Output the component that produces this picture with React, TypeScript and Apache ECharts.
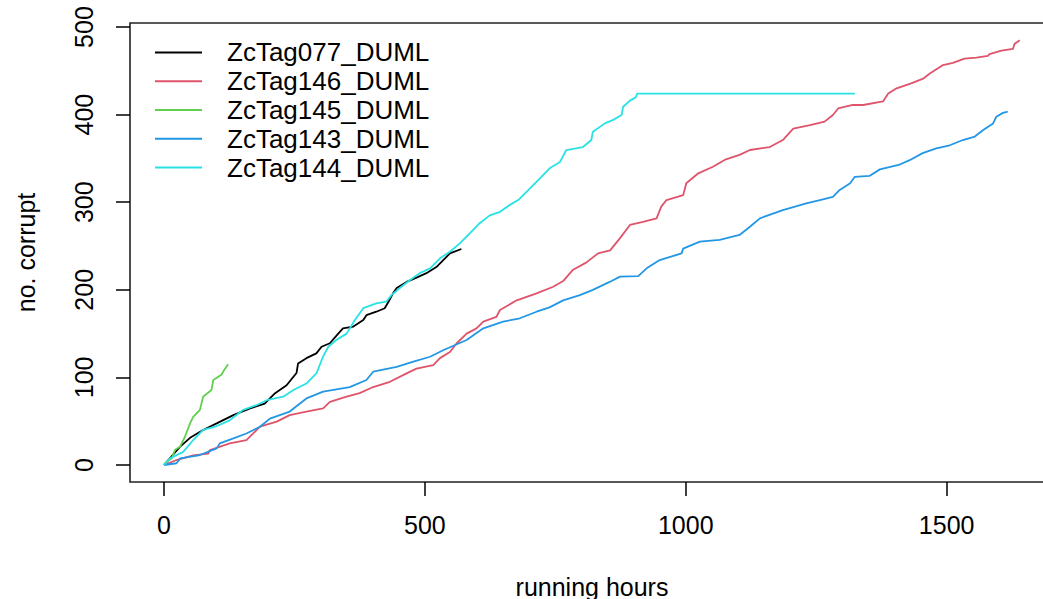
import React, { useEffect, useRef } from "react";
import * as echarts from "echarts";

const seriesNames = ["ZcTag077_DUML", "ZcTag146_DUML", "ZcTag145_DUML", "ZcTag143_DUML", "ZcTag144_DUML"];
const seriesColors = ["#000000", "#DF536B", "#61D04F", "#2297E6", "#28E2E5"];

const xTicks = [0, 500, 1000, 1500];
const yTicks = [0, 100, 200, 300, 400, 500];

// ZcTag077_DUML
const hours077 = [0, 31, 50, 75, 101, 133, 165, 193, 213, 235, 254, 257, 273, 292, 302, 318, 334, 343, 363, 382, 388, 407, 423, 430, 439, 446, 465, 484, 503, 522, 532, 548, 570];
const count077 = [0, 21, 31, 40, 47.5, 57, 64.7, 70, 82, 91, 105, 116, 122, 127.5, 135, 139, 150, 156, 158, 165.5, 171, 175, 179, 186, 196, 202, 209, 214, 219, 226, 232, 241.6, 246.6];

// ZcTag146_DUML
const hours146 = [0, 24, 56, 85, 88, 126, 158, 171, 184, 216, 241, 273, 305, 318, 350, 375, 401, 433, 465, 484, 516, 529, 548, 561, 580, 599, 612, 637, 644, 676, 714, 746, 765, 784, 809, 832, 855, 874, 893, 918, 944, 953, 963, 995, 1001, 1024, 1052, 1077, 1103, 1123, 1161, 1186, 1206, 1238, 1266, 1282, 1292, 1320, 1340, 1378, 1388, 1404, 1432, 1455, 1467, 1493, 1512, 1534, 1557, 1579, 1582, 1605, 1627, 1630, 1640];
const count146 = [0, 5.7, 11, 13, 17, 24.6, 28.5, 36, 43.7, 49.5, 57, 61, 64.7, 72, 78, 82, 89, 95, 104.6, 110, 114, 122, 129, 139, 150, 156, 163.6, 169, 177, 188, 196, 203.5, 210, 223, 231, 241.6, 245, 259, 274, 277.7, 281.6, 295, 302.5, 308, 321.6, 333, 340.5, 349, 354, 359.6, 363, 371, 384, 388, 392, 399.5, 407, 411, 411, 415, 424, 430, 435.7, 441, 446.6, 456.6, 459, 464, 465, 467, 469, 473, 475, 480.6, 485];

// ZcTag145_DUML
const hours145 = [0, 2, 15, 21, 31, 40, 50, 56, 69, 75, 91, 94.5, 110, 117, 123];
const count145 = [0, 2, 7.6, 17, 21, 32, 47.6, 55, 63, 78, 85.6, 97, 103, 110, 115];

// ZcTag143_DUML
const hours143 = [0, 24, 31, 69, 101, 107, 133, 158, 184, 203, 241, 273, 305, 356, 388, 401, 446, 478, 510, 535, 580, 612, 650, 682, 714, 739, 765, 797, 822, 854, 874, 909, 925, 950, 992, 995, 1027, 1065, 1103, 1123, 1142, 1186, 1231, 1257, 1282, 1295, 1315, 1324, 1352, 1372, 1408, 1429, 1454, 1480, 1506, 1531, 1554, 1570, 1589, 1595, 1608, 1617];
const count143 = [0, 2, 7.6, 11.4, 19, 24.7, 30.4, 36, 43.7, 53, 61, 76, 83.7, 89, 97, 106.5, 112, 118, 123.6, 131, 142.7, 156, 163.6, 167.5, 175, 180, 188, 194, 200, 209, 215, 215.7, 224.5, 234, 241.6, 247, 255, 257, 262.6, 272, 281.6, 291, 298.6, 302.5, 306, 314, 321.6, 329, 330, 337.5, 342.5, 348, 356, 361.5, 365, 371, 375, 382.4, 390, 397.5, 402, 403.3];

// ZcTag144_DUML
const hours144 = [0, 11.5, 37, 56, 75, 98, 126, 152, 178, 197, 228.5, 248, 273, 292.5, 305, 315, 331, 350, 366, 382, 407, 426, 436, 452, 471, 490, 510, 529, 548, 567, 586, 605, 624.5, 644, 663, 679, 700, 720, 739, 759, 771, 803, 819, 822, 845, 861, 877, 880, 893, 904, 907, 1324];
const count144 = [0, 7.6, 15, 28.5, 40, 43.7, 51, 63, 68.5, 74, 78, 85.6, 93, 105, 124, 135, 143, 150, 165.5, 179, 184.6, 186.4, 194, 202, 211, 219, 224.5, 236, 243.5, 253, 264.5, 276, 285, 289, 297, 302.5, 315, 327, 338.7, 346, 359.6, 363, 371, 380.5, 390, 394, 399.5, 409, 416, 419.7, 424, 424];

const allHours = [hours077, hours146, hours145, hours143, hours144];
const allCounts = [count077, count146, count145, count143, count144];

const FONT = "'Liberation Sans', Arial, sans-serif";

export default function App() {
  const ref = useRef<HTMLDivElement>(null);
  useEffect(() => {
    if (!ref.current) return;
    const chart = echarts.init(ref.current, null, { renderer: "svg" });
    const series = seriesNames.map((name, i) => ({
      name,
      type: "line",
      data: allHours[i].map((h, j) => [h, allCounts[i][j]]),
      symbol: "none",
      lineStyle: { color: seriesColors[i], width: 1.8 },
      itemStyle: { color: seriesColors[i] },
      emphasis: { disabled: true },
    }));
    chart.setOption({
      animation: false,
      backgroundColor: "#ffffff",
      textStyle: { fontFamily: FONT },
      grid: {
        left: 130,
        right: -11,
        top: 23,
        bottom: 117,
        show: true,
        borderColor: "#222222",
        borderWidth: 1.6,
        backgroundColor: "transparent",
        containLabel: false,
        outerBoundsMode: "none",
      },
      legend: {
        orient: "vertical",
        left: 150,
        top: 33,
        icon: "rect",
        itemWidth: 47,
        itemHeight: 2,
        itemGap: 0,
        selectedMode: false,
        data: seriesNames,
        textStyle: {
          fontFamily: FONT,
          fontSize: 26,
          color: "#000000",
          lineHeight: 28.8,
          padding: [0, 0, 0, 20],
        },
      },
      xAxis: {
        type: "value",
        min: -65.1,
        max: 1705.7,
        name: "running hours",
        nameLocation: "middle",
        nameGap: 92,
        nameTextStyle: { fontFamily: FONT, fontSize: 25, color: "#000000" },
        splitLine: { show: false },
        axisLine: { show: false, onZero: false },
        axisTick: {
          show: true,
          length: 14,
          customValues: xTicks,
          lineStyle: { color: "#000000", width: 1.5 },
        },
        axisLabel: {
          customValues: xTicks,
          formatter: (v: number) => String(v),
          fontFamily: FONT,
          fontSize: 25,
          color: "#000000",
          margin: 30,
        },
      },
      yAxis: {
        type: "value",
        min: -19.4,
        max: 504.6,
        name: "no. corrupt",
        nameLocation: "middle",
        nameGap: 92,
        nameRotate: 90,
        nameTextStyle: { fontFamily: FONT, fontSize: 25, color: "#000000" },
        splitLine: { show: false },
        axisLine: { show: false, onZero: false },
        axisTick: {
          show: true,
          length: 14,
          customValues: yTicks,
          lineStyle: { color: "#000000", width: 1.5 },
        },
        axisLabel: {
          customValues: yTicks,
          formatter: (v: number) => String(v),
          rotate: 90,
          fontFamily: FONT,
          fontSize: 25,
          color: "#000000",
          margin: 34,
        },
      },
      series,
    });
    return () => chart.dispose();
  }, []);
  return (
    <div
      ref={ref}
      style={{ position: "fixed", left: 0, top: 0, width: 1043, height: 599, background: "#fff" }}
    />
  );
}
